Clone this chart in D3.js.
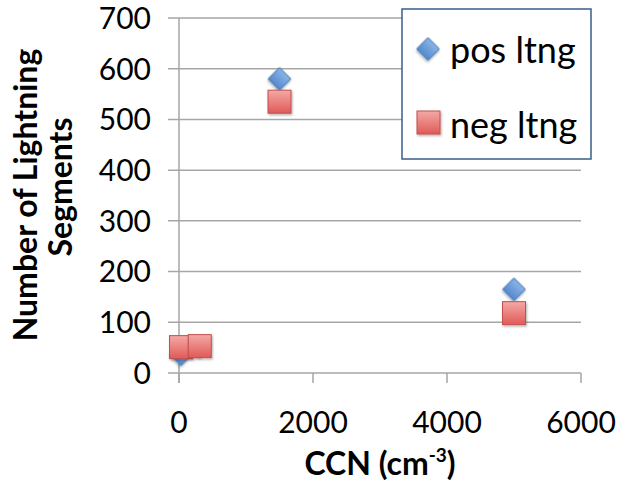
<!DOCTYPE html>
<html>
<head>
<meta charset="utf-8">
<script src="https://cdn.jsdelivr.net/npm/d3@7"></script>
<style>
  body { margin: 0; background: #fff; }
  svg { font-family: Lato, "Open Sans", sans-serif; }
</style>
</head>
<body>
<svg id="chart" width="617" height="488"></svg>
<script>
// values
var ccn = [30, 310, 1500, 5000];
var posLtng = [37, 53, 580, 165];
var negLtng = [51, 53, 535, 118];
var seriesNames = ["pos ltng", "neg ltng"];
var xTicks = [0, 2000, 4000, 6000];
var yTicks = [0, 100, 200, 300, 400, 500, 600, 700];

var svg = d3.select("#chart");

var x = d3.scaleLinear().domain([0, 6000]).range([179, 581]);
var y = d3.scaleLinear().domain([0, 700]).range([373, 18]);

var defs = svg.append("defs");
var gRed = defs.append("linearGradient").attr("id", "gRed")
    .attr("x1", 0).attr("y1", 0).attr("x2", 0).attr("y2", 1);
gRed.append("stop").attr("offset", "0%").attr("stop-color", "#f4a9a7");
gRed.append("stop").attr("offset", "100%").attr("stop-color", "#e05a57");
var gBlue = defs.append("linearGradient").attr("id", "gBlue")
    .attr("x1", 0).attr("y1", 0).attr("x2", 0).attr("y2", 1);
gBlue.append("stop").attr("offset", "0%").attr("stop-color", "#8ab4e6");
gBlue.append("stop").attr("offset", "100%").attr("stop-color", "#5589cc");
var shadow = defs.append("filter").attr("id", "shadow")
    .attr("x", "-30%").attr("y", "-30%").attr("width", "170%").attr("height", "170%");
shadow.append("feDropShadow").attr("dx", 1).attr("dy", 1.5)
    .attr("stdDeviation", 1.2).attr("flood-color", "#000").attr("flood-opacity", 0.3);

// gridlines
svg.append("g").selectAll("line")
    .data(yTicks)
    .enter()
    .append("line")
    .attr("x1", 168).attr("x2", x(6000))
    .attr("y1", function(d) { return y(d); })
    .attr("y2", function(d) { return y(d); })
    .attr("stroke", "#a6a6a6")
    .attr("stroke-width", 1.5);

// y axis line
svg.append("line")
    .attr("x1", x(0)).attr("x2", x(0))
    .attr("y1", y(700)).attr("y2", y(0) + 10)
    .attr("stroke", "#a6a6a6").attr("stroke-width", 1.5);

// x ticks
svg.append("g").selectAll("line")
    .data(xTicks)
    .enter()
    .append("line")
    .attr("x1", function(d) { return x(d); })
    .attr("x2", function(d) { return x(d); })
    .attr("y1", y(0)).attr("y2", y(0) + 10)
    .attr("stroke", "#a6a6a6").attr("stroke-width", 1.5);

// tick labels
svg.append("g").selectAll("text")
    .data(yTicks)
    .enter()
    .append("text")
    .attr("x", 151)
    .attr("y", function(d) { return y(d); })
    .attr("dy", "0.36em")
    .attr("text-anchor", "end")
    .attr("font-size", 30)
    .attr("fill", "#000")
    .text(function(d) { return d; });

svg.append("g").selectAll("text")
    .data(xTicks)
    .enter()
    .append("text")
    .attr("x", function(d) { return x(d); })
    .attr("y", 433)
    .attr("text-anchor", "middle")
    .attr("font-size", 30)
    .attr("fill", "#000")
    .text(function(d) { return d; });

// axis titles
var xt = svg.append("text")
    .attr("x", 380).attr("y", 475)
    .attr("text-anchor", "middle")
    .attr("font-size", 32)
    .attr("font-weight", "bold");
xt.append("tspan").text("CCN (cm");
xt.append("tspan").attr("font-size", 19).attr("dy", -13).text("-3");
xt.append("tspan").attr("dy", 13).text(")");

var yt = svg.append("text")
    .attr("transform", "translate(37,195) rotate(-90)")
    .attr("text-anchor", "middle")
    .attr("font-size", 32)
    .attr("font-weight", "bold");
yt.append("tspan").attr("x", 0).attr("y", 0).text("Number of Lightning");
yt.append("tspan").attr("x", 8).attr("y", 35).text("Segments");

// markers
var diamond = d3.symbol().type(d3.symbolSquare).size(16 * 16);
var posData = ccn.map(function(c, i) { return [c, posLtng[i]]; });
var negData = ccn.map(function(c, i) { return [c, negLtng[i]]; });

svg.append("g").selectAll("path")
    .data(posData)
    .enter()
    .append("path")
    .attr("d", diamond)
    .attr("transform", function(d) { return "translate(" + x(d[0]) + "," + y(d[1]) + ") rotate(45)"; })
    .attr("fill", "url(#gBlue)")
    .attr("stroke", "#4a7ebb")
    .attr("stroke-width", 1)
    .attr("filter", "url(#shadow)");

svg.append("g").selectAll("rect")
    .data(negData)
    .enter()
    .append("rect")
    .attr("x", function(d) { return x(d[0]) - 11.5; })
    .attr("y", function(d) { return y(d[1]) - 11.5; })
    .attr("width", 23)
    .attr("height", 23)
    .attr("fill", "url(#gRed)")
    .attr("stroke", "#c0504d")
    .attr("stroke-width", 1)
    .attr("filter", "url(#shadow)");

// legend
var legend = svg.append("g");
legend.append("rect")
    .attr("x", 402).attr("y", 9)
    .attr("width", 189).attr("height", 150)
    .attr("fill", "#fff")
    .attr("stroke", "#385d8a")
    .attr("stroke-width", 1.5);

legend.append("path")
    .attr("d", diamond)
    .attr("transform", "translate(428,49) rotate(45)")
    .attr("fill", "url(#gBlue)")
    .attr("stroke", "#4a7ebb")
    .attr("filter", "url(#shadow)");
legend.append("rect")
    .attr("x", 417).attr("y", 111)
    .attr("width", 23).attr("height", 23)
    .attr("fill", "url(#gRed)")
    .attr("stroke", "#c0504d")
    .attr("filter", "url(#shadow)");

legend.selectAll(".legText")
    .data(seriesNames)
    .enter()
    .append("text")
    .attr("class", "legText")
    .attr("x", 450)
    .attr("y", function(d, i) { return i == 0 ? 63 : 138; })
    .attr("font-size", 36)
    .text(function(d) { return d; });
</script>
</body>
</html>
